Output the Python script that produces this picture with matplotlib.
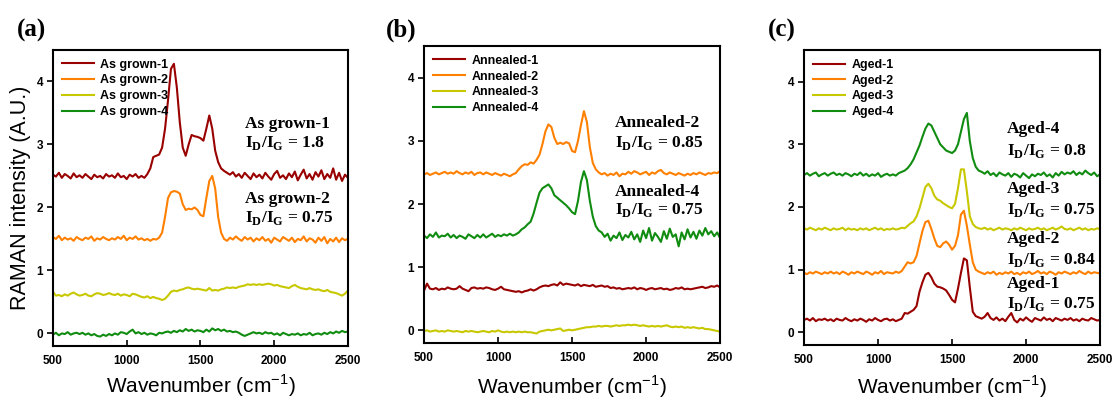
import numpy as np
import matplotlib
matplotlib.use("Agg")
import matplotlib.pyplot as plt

# sample grid of the spectra (cm^-1)
wavenumber = np.arange(500, 2501, 20)

# (a) as grown
as_grown_1 = [
    2.52, 2.49, 2.55, 2.47, 2.53, 2.50, 2.46, 2.54, 2.48, 2.51,
    2.47, 2.53, 2.49, 2.45, 2.52, 2.48, 2.50, 2.46, 2.53, 2.49,
    2.51, 2.47, 2.54, 2.48, 2.50, 2.45, 2.52, 2.49, 2.53, 2.47,
    2.50, 2.47, 2.53, 2.62, 2.80, 2.82, 2.84, 2.95, 3.25, 3.70,
    4.20, 4.28, 3.90, 3.35, 2.95, 2.82, 3.00, 3.15, 3.13, 3.12,
    3.10, 3.06, 3.25, 3.46, 3.25, 2.90, 2.72, 2.62, 2.58, 2.55,
    2.52, 2.56, 2.49, 2.53, 2.47, 2.55, 2.50, 2.45, 2.54, 2.48,
    2.52, 2.46, 2.55, 2.49, 2.44, 2.53, 2.58, 2.47, 2.51, 2.45,
    2.54, 2.48, 2.57, 2.43, 2.52, 2.60, 2.46, 2.53, 2.44, 2.56,
    2.49, 2.59, 2.45, 2.53, 2.47, 2.62, 2.44, 2.55, 2.42, 2.52,
    2.47]
as_grown_2 = [
    1.53, 1.50, 1.55, 1.48, 1.52, 1.49, 1.51, 1.47, 1.53, 1.50,
    1.48, 1.52, 1.50, 1.54, 1.47, 1.51, 1.49, 1.53, 1.50, 1.48,
    1.51, 1.49, 1.53, 1.50, 1.55, 1.48, 1.52, 1.50, 1.54, 1.49,
    1.51, 1.48, 1.50, 1.47, 1.50, 1.49, 1.52, 1.60, 1.85, 2.15,
    2.24, 2.26, 2.25, 2.22, 2.05, 1.96, 1.98, 1.97, 2.00, 1.96,
    1.88, 1.86, 2.15, 2.42, 2.50, 2.30, 1.85, 1.60, 1.50, 1.47,
    1.52, 1.49, 1.54, 1.50, 1.47, 1.53, 1.49, 1.52, 1.46, 1.51,
    1.48, 1.53, 1.47, 1.50, 1.44, 1.52, 1.49, 1.46, 1.53, 1.50,
    1.47, 1.52, 1.45, 1.50, 1.48, 1.54, 1.46, 1.51, 1.49, 1.44,
    1.52, 1.47, 1.53, 1.43, 1.50, 1.46, 1.52, 1.45, 1.51, 1.48,
    1.50]
as_grown_3 = [
    0.66, 0.60, 0.61, 0.59, 0.62, 0.60, 0.63, 0.65, 0.62, 0.60,
    0.61, 0.63, 0.60, 0.59, 0.62, 0.64, 0.63, 0.61, 0.62, 0.64,
    0.62, 0.61, 0.63, 0.60, 0.62, 0.61, 0.59, 0.63, 0.62, 0.60,
    0.58, 0.57, 0.59, 0.56, 0.58, 0.56, 0.55, 0.53, 0.55, 0.60,
    0.66, 0.68, 0.67, 0.69, 0.70, 0.72, 0.73, 0.71, 0.70, 0.71,
    0.70, 0.69, 0.68, 0.72, 0.68, 0.69, 0.68, 0.70, 0.71, 0.73,
    0.72, 0.73, 0.72, 0.74, 0.75, 0.76, 0.78, 0.77, 0.78, 0.77,
    0.78, 0.77, 0.78, 0.79, 0.78, 0.76, 0.77, 0.75, 0.74, 0.73,
    0.72, 0.75, 0.77, 0.74, 0.72, 0.71, 0.70, 0.72, 0.70, 0.69,
    0.70, 0.68, 0.67, 0.69, 0.66, 0.65, 0.64, 0.62, 0.60, 0.63,
    0.68]
as_grown_4 = [
    -0.02, 0.01, -0.03, 0.00, -0.01, 0.02, -0.02, 0.00, 0.01, -0.01,
    0.01, -0.02, 0.00, -0.03, -0.01, -0.04, -0.05, -0.02, -0.04, -0.01,
    -0.03, 0.00, -0.02, 0.02, 0.01, -0.01, 0.03, 0.06, 0.00, 0.02,
    -0.01, 0.01, -0.02, 0.00, -0.01, -0.03, 0.01, 0.00, 0.02, 0.03,
    0.01, 0.04, 0.02, 0.05, 0.03, 0.07, 0.04, 0.06, 0.03, 0.05,
    0.04, 0.02, 0.06, 0.03, 0.08, 0.05, 0.07, 0.04, 0.06, 0.03,
    0.04, 0.02, 0.03, 0.01, -0.02, -0.04, -0.02, 0.00, 0.02, 0.00,
    0.01, -0.01, 0.02, 0.00, 0.01, -0.02, 0.00, -0.03, 0.01, -0.01,
    -0.03, -0.01, -0.02, 0.00, -0.03, -0.01, -0.02, 0.01, -0.03, -0.01,
    0.00, -0.02, 0.01, -0.01, 0.02, 0.00, 0.03, 0.01, 0.04, 0.02,
    0.03]

# (b) annealed
annealed_1 = [
    0.63, 0.74, 0.66, 0.65, 0.67, 0.64, 0.66, 0.65, 0.68, 0.66,
    0.65, 0.66, 0.70, 0.66, 0.64, 0.62, 0.67, 0.68, 0.66, 0.67,
    0.66, 0.68, 0.67, 0.65, 0.64, 0.66, 0.69, 0.65, 0.64, 0.63,
    0.62, 0.61, 0.62, 0.60, 0.62, 0.63, 0.65, 0.63, 0.65, 0.68,
    0.70, 0.71, 0.70, 0.72, 0.73, 0.71, 0.76, 0.72, 0.74, 0.73,
    0.72, 0.71, 0.73, 0.70, 0.72, 0.71, 0.70, 0.72, 0.69, 0.70,
    0.71, 0.69, 0.70, 0.67, 0.68, 0.66, 0.67, 0.65, 0.66, 0.67,
    0.66, 0.68, 0.65, 0.67, 0.66, 0.64, 0.66, 0.67, 0.65, 0.66,
    0.67, 0.65, 0.66, 0.64, 0.65, 0.67, 0.66, 0.68, 0.65, 0.66,
    0.65, 0.66, 0.67, 0.68, 0.69, 0.67, 0.68, 0.70, 0.69, 0.71,
    0.68]
annealed_2 = [
    2.47, 2.49, 2.46, 2.48, 2.50, 2.47, 2.49, 2.51, 2.48, 2.50,
    2.48, 2.52, 2.49, 2.47, 2.50, 2.48, 2.51, 2.46, 2.49, 2.50,
    2.47, 2.50, 2.48, 2.46, 2.49, 2.47, 2.45, 2.48, 2.46, 2.44,
    2.47, 2.49, 2.55, 2.60, 2.63, 2.62, 2.66, 2.64, 2.70, 2.78,
    2.95, 3.15, 3.26, 3.22, 3.05, 2.95, 2.97, 2.95, 2.98, 2.96,
    2.84, 2.82, 3.00, 3.25, 3.47, 3.30, 2.90, 2.65, 2.55, 2.50,
    2.47, 2.49, 2.45, 2.48, 2.46, 2.50, 2.44, 2.48, 2.47, 2.51,
    2.48, 2.52, 2.50, 2.47, 2.49, 2.51, 2.46, 2.50, 2.48, 2.52,
    2.54, 2.49, 2.47, 2.50, 2.48, 2.46, 2.49, 2.47, 2.45, 2.48,
    2.46, 2.49, 2.47, 2.50, 2.48, 2.46, 2.49, 2.48, 2.50, 2.49,
    2.52]
annealed_3 = [
    -0.01, 0.00, -0.02, -0.01, 0.00, -0.02, -0.01, -0.02, 0.00, -0.01,
    -0.02, -0.01, -0.02, -0.03, -0.01, -0.02, -0.01, -0.02, -0.03, -0.02,
    -0.01, -0.02, -0.03, -0.01, -0.02, 0.00, -0.02, -0.03, -0.02, -0.03,
    -0.02, -0.03, -0.02, -0.03, -0.02, -0.03, -0.03, -0.04, -0.05, -0.02,
    -0.01, 0.00, 0.01, 0.00, 0.01, 0.02, 0.03, -0.01, 0.00, 0.01,
    0.00, 0.01, 0.02, 0.03, 0.04, 0.05, 0.05, 0.06, 0.06, 0.07,
    0.06, 0.07, 0.07, 0.06, 0.07, 0.08, 0.07, 0.08, 0.08, 0.09,
    0.08, 0.09, 0.08, 0.07, 0.08, 0.07, 0.06, 0.07, 0.06, 0.07,
    0.06, 0.07, 0.08, 0.06, 0.05, 0.06, 0.05, 0.06, 0.04, 0.05,
    0.04, 0.05, 0.04, 0.03, 0.04, 0.02, 0.02, 0.01, 0.00, -0.01,
    -0.02]
annealed_4 = [
    1.50, 1.46, 1.52, 1.48, 1.55, 1.47, 1.50, 1.49, 1.53, 1.47,
    1.51, 1.46, 1.50, 1.48, 1.45, 1.52, 1.49, 1.46, 1.51, 1.47,
    1.52, 1.47, 1.50, 1.53, 1.48, 1.51, 1.49, 1.52, 1.50, 1.53,
    1.50, 1.52, 1.55, 1.60, 1.63, 1.68, 1.72, 1.85, 2.02, 2.18,
    2.25, 2.28, 2.31, 2.25, 2.14, 2.10, 2.06, 2.02, 1.98, 1.93,
    1.87, 1.84, 2.05, 2.35, 2.52, 2.38, 2.05, 1.80, 1.65, 1.58,
    1.55, 1.48, 1.53, 1.42, 1.50, 1.46, 1.55, 1.43, 1.51, 1.47,
    1.56, 1.44, 1.52, 1.40, 1.58, 1.46, 1.62, 1.42, 1.54, 1.48,
    1.40, 1.57, 1.45, 1.61, 1.48, 1.52, 1.33, 1.55, 1.44, 1.60,
    1.47, 1.56, 1.45, 1.58, 1.50, 1.62, 1.52, 1.57, 1.49, 1.55,
    1.46]

# (c) aged
aged_1 = [
    0.20, 0.22, 0.19, 0.23, 0.18, 0.21, 0.20, 0.22, 0.19, 0.21,
    0.18, 0.22, 0.20, 0.19, 0.23, 0.20, 0.18, 0.21, 0.19, 0.22,
    0.20, 0.17, 0.21, 0.19, 0.23, 0.20, 0.18, 0.21, 0.22, 0.19,
    0.21, 0.18, 0.20, 0.22, 0.31, 0.30, 0.33, 0.36, 0.42, 0.65,
    0.80, 0.92, 0.95, 0.88, 0.78, 0.73, 0.72, 0.70, 0.67, 0.60,
    0.52, 0.48, 0.70, 0.95, 1.18, 1.15, 0.72, 0.33, 0.26, 0.24,
    0.22, 0.25, 0.31, 0.23, 0.20, 0.24, 0.19, 0.22, 0.18, 0.25,
    0.31, 0.20, 0.16, 0.22, 0.19, 0.24, 0.20, 0.17, 0.23, 0.21,
    0.19, 0.24, 0.20, 0.22, 0.18, 0.23, 0.21, 0.19, 0.22, 0.20,
    0.23, 0.19, 0.21, 0.18, 0.22, 0.20, 0.19, 0.23, 0.21, 0.19,
    0.20]
aged_2 = [
    0.95, 0.93, 0.96, 0.94, 0.97, 0.95, 0.93, 0.96, 0.94, 0.97,
    0.94, 0.96, 0.93, 0.97, 0.95, 0.92, 0.96, 0.94, 0.97, 0.95,
    0.93, 0.97, 0.95, 0.92, 0.96, 0.94, 0.98, 0.93, 0.96, 0.95,
    0.94, 0.97, 0.95, 0.98, 1.05, 1.12, 1.10, 1.12, 1.22, 1.42,
    1.62, 1.76, 1.78, 1.65, 1.50, 1.38, 1.36, 1.42, 1.45, 1.40,
    1.32, 1.38, 1.55, 1.88, 1.94, 1.70, 1.40, 1.12, 1.00, 0.97,
    0.95, 0.93, 0.96, 0.94, 0.97, 0.92, 0.95, 0.93, 0.96, 0.94,
    0.97, 0.93, 0.95, 0.92, 0.96, 0.94, 0.97, 0.93, 0.95, 0.98,
    0.94, 0.96, 0.93, 0.97, 0.95, 0.92, 0.96, 0.94, 0.97, 0.95,
    0.93, 0.96, 0.94, 0.98, 0.95, 0.93, 0.97, 0.94, 0.96, 0.95,
    0.94]
aged_3 = [
    1.66, 1.64, 1.67, 1.65, 1.63, 1.66, 1.64, 1.67, 1.65, 1.63,
    1.66, 1.64, 1.65, 1.67, 1.63, 1.66, 1.64, 1.65, 1.63, 1.66,
    1.64, 1.66, 1.63, 1.65, 1.67, 1.64, 1.66, 1.63, 1.65, 1.64,
    1.66, 1.64, 1.65, 1.67, 1.66, 1.70, 1.74, 1.77, 1.85, 1.98,
    2.15, 2.32, 2.37, 2.30, 2.18, 2.12, 2.10, 2.06, 2.03, 2.00,
    1.98, 2.05, 2.30, 2.60, 2.60, 2.25, 1.85, 1.73, 1.68, 1.66,
    1.65, 1.67, 1.64, 1.66, 1.63, 1.65, 1.67, 1.64, 1.66, 1.65,
    1.63, 1.66, 1.64, 1.67, 1.65, 1.63, 1.66, 1.64, 1.65, 1.67,
    1.64, 1.66, 1.63, 1.65, 1.67, 1.64, 1.66, 1.69, 1.65, 1.64,
    1.66, 1.63, 1.65, 1.67, 1.64, 1.66, 1.63, 1.65, 1.64, 1.66,
    1.65]
aged_4 = [
    2.51, 2.54, 2.50, 2.53, 2.55, 2.49, 2.52, 2.54, 2.50, 2.53,
    2.55, 2.51, 2.53, 2.50, 2.54, 2.52, 2.49, 2.53, 2.51, 2.55,
    2.50, 2.53, 2.49, 2.52, 2.50, 2.54, 2.48, 2.51, 2.53, 2.50,
    2.52, 2.50, 2.54, 2.56, 2.58, 2.62, 2.68, 2.76, 2.87, 2.98,
    3.12, 3.25, 3.33, 3.30, 3.20, 3.10, 3.00, 2.95, 2.90, 2.88,
    2.86, 2.90, 3.00, 3.20, 3.40, 3.50, 3.05, 2.78, 2.64, 2.58,
    2.56, 2.53, 2.57, 2.51, 2.54, 2.49, 2.55, 2.52, 2.50, 2.54,
    2.48, 2.53, 2.51, 2.47, 2.54, 2.50, 2.46, 2.52, 2.49, 2.53,
    2.51, 2.55, 2.49, 2.52, 2.47, 2.54, 2.50, 2.56, 2.52, 2.55,
    2.53, 2.57, 2.51, 2.55, 2.52, 2.58, 2.54, 2.51, 2.55, 2.49,
    2.52]

colors = ["#990000", "#ff8000", "#c8c800", "#108c10"]

panel_labels = ["(a)", "(b)", "(c)"]
legend_labels = [
    ["As grown-1", "As grown-2", "As grown-3", "As grown-4"],
    ["Annealed-1", "Annealed-2", "Annealed-3", "Annealed-4"],
    ["Aged-1", "Aged-2", "Aged-3", "Aged-4"],
]
series = [
    [as_grown_1, as_grown_2, as_grown_3, as_grown_4],
    [annealed_1, annealed_2, annealed_3, annealed_4],
    [aged_1, aged_2, aged_3, aged_4],
]
# annotations: (sample name, ratio, x, y of name line, y of ratio line)
notes = [
    [("As grown-1", "1.8", 1800, 3.33, 3.02),
     ("As grown-2", "0.75", 1800, 2.14, 1.84)],
    [("Annealed-2", "0.85", 1790, 3.29, 2.97),
     ("Annealed-4", "0.75", 1790, 2.19, 1.90)],
    [("Aged-4", "0.8", 1872, 3.24, 2.89),
     ("Aged-3", "0.75", 1872, 2.29, 1.95),
     ("Aged-2", "0.84", 1872, 1.49, 1.16),
     ("Aged-1", "0.75", 1872, 0.78, 0.46)],
]

plt.rcParams["font.family"] = ["Liberation Sans", "DejaVu Sans"]
plt.rcParams["mathtext.fontset"] = "custom"
plt.rcParams["mathtext.rm"] = "Liberation Serif:bold"
plt.rcParams["mathtext.bf"] = "Liberation Serif:bold"
plt.rcParams["mathtext.sf"] = "Liberation Sans"

fig = plt.figure(figsize=(11.13, 3.99), dpi=100)
boxes = [
    [0.0476, 0.1328, 0.2650, 0.7420],
    [0.3810, 0.1404, 0.2660, 0.7440],
    [0.7224, 0.1353, 0.2660, 0.7390],
]
label_x = [31, 401, 782]
xlabel_pad = [4, 6.5, 5]

for k in range(3):
    ax = fig.add_axes(boxes[k])
    for y, c, lab in zip(series[k], colors, legend_labels[k]):
        ax.plot(wavenumber, y, color=c, lw=1.5, label=lab)

    ax.set_xlim(500, 2500)
    ax.set_ylim(-0.2, 4.5)
    ax.set_xticks([500, 1000, 1500, 2000, 2500])
    ax.set_yticks([0, 1, 2, 3, 4])
    ax.tick_params(axis="x", direction="in", length=4, width=1.2, pad=6.5)
    ax.tick_params(axis="y", direction="out", length=4, width=1.2, pad=3)
    for t in ax.get_xticklabels() + ax.get_yticklabels():
        t.set_fontsize(8.5)
        t.set_fontweight("bold")
    for s in ax.spines.values():
        s.set_linewidth(1.5)

    ax.set_xlabel(r"Wavenumber (cm$^{\mathsf{-1}}$)", fontsize=15,
                  labelpad=xlabel_pad[k])
    if k == 0:
        ax.set_ylabel("RAMAN intensity (A.U.)", fontsize=15.5, labelpad=4)

    ax.legend(loc="upper left", frameon=False, handlelength=2.6,
              handletextpad=0.5, labelspacing=0.3, borderaxespad=0.3,
              prop={"size": 9, "weight": "bold"})

    for name, ratio, x, y1, y2 in notes[k]:
        ax.text(x, y1, name, fontsize=12.5, fontweight="bold",
                family="Liberation Serif", va="center")
        ax.text(x, y2, r"I$_{\mathbf{D}}$/I$_{\mathbf{G}}$ = " + ratio,
                fontsize=12.5, fontweight="bold", family="Liberation Serif",
                va="center")

    fig.text(label_x[k] / 1113, 1 - 30 / 399, panel_labels[k], fontsize=18,
             fontweight="bold", family="Liberation Serif", ha="center",
             va="center")

fig.savefig("out.png", dpi=100)
